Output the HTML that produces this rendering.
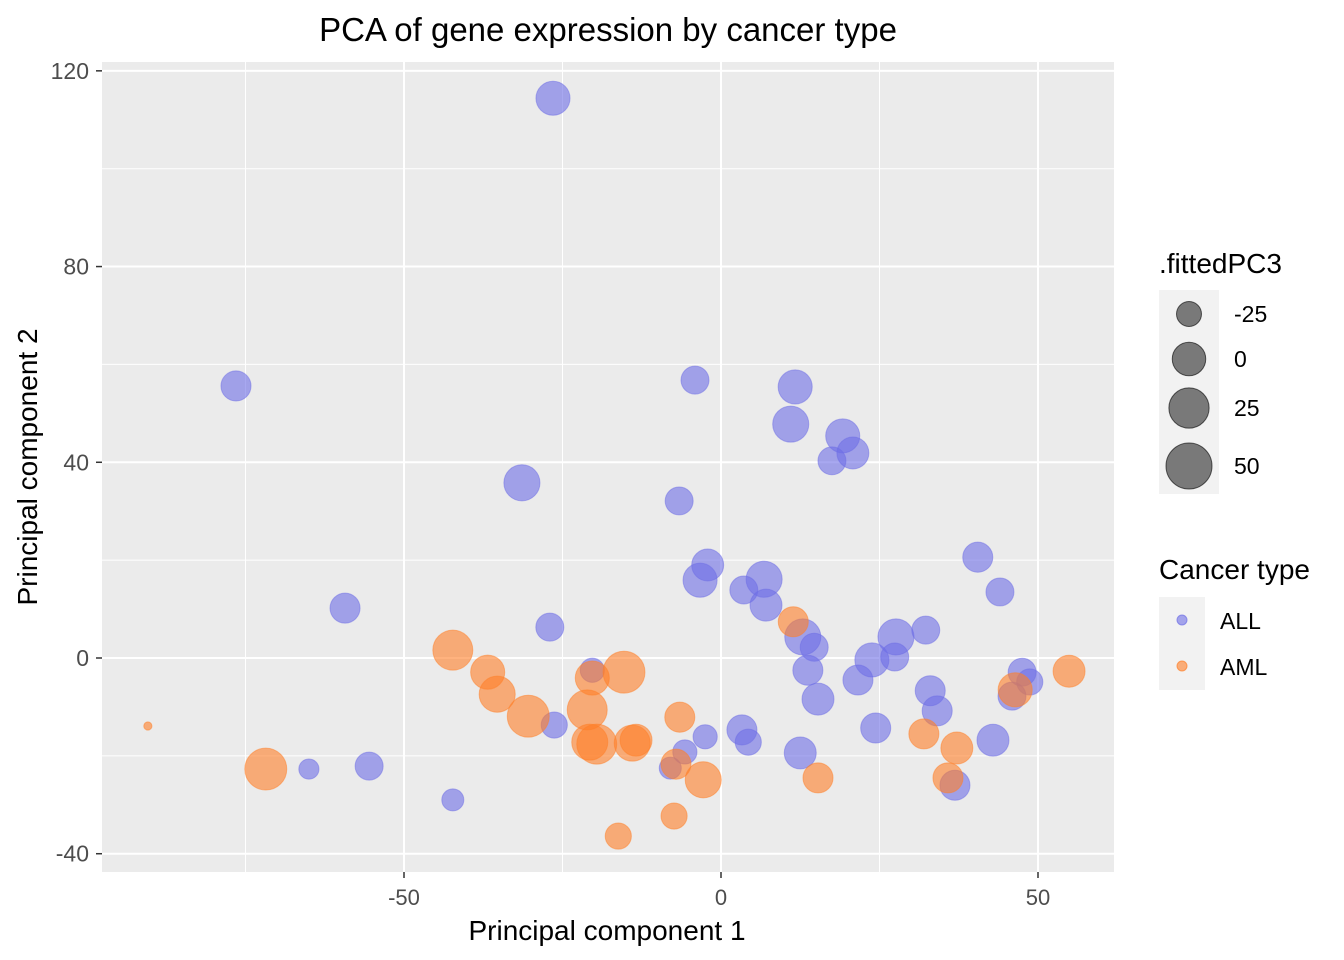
<!DOCTYPE html>
<html><head><meta charset="utf-8"><style>
html,body{margin:0;padding:0;background:#fff;}
svg{display:block;font-family:"Liberation Sans",Arial,sans-serif;}
</style></head><body>
<svg id="chart" width="1344" height="960">
<text x="608" y="41" text-anchor="middle" font-size="33" fill="#000">PCA of gene expression by cancer type</text>
<rect x="102" y="62" width="1012" height="810" fill="#ebebeb"/>
<g id="grid"></g>
<g id="points"></g>
<g id="axes"></g>
<text x="607" y="940" text-anchor="middle" font-size="28" fill="#000">Principal component 1</text>
<text transform="translate(37,467) rotate(-90)" text-anchor="middle" font-size="28" fill="#000">Principal component 2</text>
<g>
<text x="1159" y="273" font-size="28" fill="#000">.fittedPC3</text>
<rect x="1159" y="290" width="60" height="204" fill="#f2f2f2"/>
<g id="sizeKeys"></g>
</g>
<g>
<text x="1159" y="579" font-size="28" fill="#000">Cancer type</text>
<rect x="1159" y="597" width="46" height="93" fill="#f2f2f2"/>
<circle cx="1182" cy="620" r="5" fill="rgb(110,110,230)" fill-opacity="0.6" stroke="rgb(110,110,230)" stroke-opacity="0.7"/>
<text x="1220" y="629" font-size="23" fill="#000">ALL</text>
<circle cx="1182" cy="666" r="5" fill="rgb(255,127,40)" fill-opacity="0.6" stroke="rgb(255,127,40)" stroke-opacity="0.7"/>
<text x="1220" y="675" font-size="23" fill="#000">AML</text>
</g>
</svg>
<script>
const xTicks = [-50, 0, 50];
const xMinor = [-75, -25, 25];
const yTicks = [-40, 0, 40, 80, 120];
const yMinor = [-20, 20, 60, 100];
const sizeLegendValues = [-25, 0, 25, 50];
const allX = [-26.5,-76.5,-4.1,11.7,11.0,19.2,17.5,20.8,-31.4,-6.6,40.5,44.0,-59.3,-27.0,-2.1,-3.3,6.8,3.6,7.1,12.9,14.7,13.7,15.3,23.8,27.6,27.4,32.3,21.6,33.0,34.1,24.4,47.5,48.7,45.9,42.9,36.9,12.5,3.3,4.3,-2.5,-5.7,-8.0,-26.3,-20.3,-55.5,-65.0,-42.3];
const allY = [114.4,55.6,56.8,55.4,47.8,45.4,40.3,41.9,35.8,32.1,20.6,13.5,10.2,6.3,19.0,15.9,16.1,13.9,10.8,4.3,2.2,-2.5,-8.4,-0.4,4.3,0.2,5.7,-4.5,-6.7,-10.8,-14.3,-2.9,-4.9,-7.8,-16.8,-26.0,-19.4,-14.7,-17.2,-16.1,-19.2,-22.5,-13.7,-2.5,-22.1,-22.7,-29.0];
const allPC3 = [2,-11,-17,2,9,2,-17,-5,9,-17,-11,-17,-11,-17,-5,2,9,-17,-5,9,-17,-11,-5,2,9,-17,-17,-11,-11,-11,-11,-17,-22,-17,-5,-11,-5,-11,-22,-27,-27,-32,-22,-27,-17,-36,-32];
const amlX = [-90.4,-71.8,-42.3,-36.8,-35.3,-30.4,-21.1,-20.3,-15.3,-20.7,-19.6,-14.0,-13.4,-6.5,-7.1,-2.8,-7.4,-16.2,11.4,15.3,32.0,37.2,35.8,46.4,54.9];
const amlY = [-13.9,-22.7,1.6,-2.9,-7.4,-11.9,-10.6,-4.1,-2.9,-17.2,-17.6,-17.4,-16.8,-12.1,-21.7,-24.9,-32.3,-36.4,7.4,-24.5,-15.5,-18.4,-24.5,-6.5,-2.7];
const amlPC3 = [-53,32,24,2,9,32,24,2,32,9,24,9,-5,-11,-11,9,-22,-22,-11,-11,-11,-5,-11,2,-5];

const NS='http://www.w3.org/2000/svg';
const xs = v => 721 + v*6.34;
const ys = v => 658 - v*4.893;
const rs = v => Math.sqrt(Math.max(4, 156 + 4.97*(v+25)));
function mk(tag, attrs, parent){const e=document.createElementNS(NS,tag);for(const k in attrs)e.setAttribute(k,attrs[k]);parent.appendChild(e);return e;}
const grid=document.getElementById('grid'), axes=document.getElementById('axes'), pts=document.getElementById('points');
xMinor.forEach(v=>{const l=mk('line',{x1:xs(v),x2:xs(v),y1:62,y2:872,stroke:'#fff','stroke-width':1},grid);

});
yMinor.forEach(v=>{const l=mk('line',{x1:102,x2:1114,y1:ys(v),y2:ys(v),stroke:'#fff','stroke-width':1},grid);

});
xTicks.forEach(v=>{const l=mk('line',{x1:xs(v),x2:xs(v),y1:62,y2:872,stroke:'#fff','stroke-width':2},grid);


const t=mk('line',{x1:xs(v),x2:xs(v),y1:872,y2:878,stroke:'#333','stroke-width':1.5},axes);


const tx=mk('text',{x:xs(v),y:905,'text-anchor':'middle','font-size':22,fill:'#4d4d4d'},axes);tx.textContent=v;

});
yTicks.forEach(v=>{const l=mk('line',{x1:102,x2:1114,y1:ys(v),y2:ys(v),stroke:'#fff','stroke-width':2},grid);


const t=mk('line',{x1:96,x2:102,y1:ys(v),y2:ys(v),stroke:'#333','stroke-width':1.5},axes);


const tx=mk('text',{x:89,y:ys(v)+8,'text-anchor':'end','font-size':23,fill:'#4d4d4d'},axes);tx.textContent=v;

});
function drawSeries(X,Y,S,col,name){
 X.forEach((x,i)=>{const c=mk('circle',{cx:xs(x),cy:ys(Y[i]),r:rs(S[i]),fill:col,'fill-opacity':0.6,stroke:col,'stroke-opacity':0.5,'stroke-width':1},pts);
 
 });
}
drawSeries(allX,allY,allPC3,'rgb(110,110,230)','point-all');
drawSeries(amlX,amlY,amlPC3,'rgb(255,127,40)','point-aml');
const sk=document.getElementById('sizeKeys');
const keyY=[314,359,408,466];
sizeLegendValues.forEach((v,i)=>{const c=mk('circle',{cx:1189,cy:keyY[i],r:rs(v),fill:'#000','fill-opacity':0.5,stroke:'#000','stroke-opacity':0.6},sk);


const t=mk('text',{x:1234,y:keyY[i]+8,'font-size':23,fill:'#000'},sk);t.textContent=v;

});
</script>
</body></html>
